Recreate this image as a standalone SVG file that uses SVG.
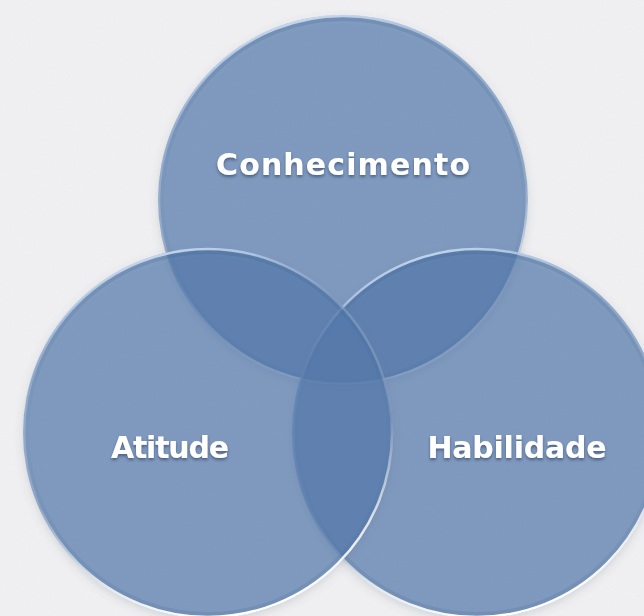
<svg xmlns="http://www.w3.org/2000/svg" width="644" height="616" viewBox="0 0 644 616">
  <defs>
    <filter id="noise" x="0" y="0" width="100%" height="100%">
      <feTurbulence type="fractalNoise" baseFrequency="0.9" numOctaves="2" seed="3" result="n"/>
      <feColorMatrix in="n" type="matrix" values="0 0 0 0 1  0 0 0 0 1  0 0 0 0 1  0 0 0 0.25 0" result="w"/>
      <feComposite in="w" in2="SourceGraphic" operator="over"/>
    </filter>
    <filter id="shadow" x="-20%" y="-20%" width="140%" height="140%">
      <feDropShadow dx="0" dy="3" stdDeviation="4" flood-color="#55606e" flood-opacity="0.3"/>
    </filter>
    <filter id="txtShadow" x="-10%" y="-30%" width="120%" height="170%">
      <feDropShadow dx="0" dy="2" stdDeviation="1.4" flood-color="#1d3350" flood-opacity="0.55"/>
    </filter>
    <linearGradient id="rim" x1="0.3" y1="0" x2="0.55" y2="1">
      <stop offset="0" stop-color="#d6e6fb" stop-opacity="0.9"/>
      <stop offset="0.25" stop-color="#c4d8f2" stop-opacity="0.3"/>
      <stop offset="0.6" stop-color="#ffffff" stop-opacity="0.15"/>
      <stop offset="0.85" stop-color="#ffffff" stop-opacity="0.8"/>
      <stop offset="1" stop-color="#ffffff" stop-opacity="1"/>
    </linearGradient>
    <linearGradient id="bevel" x1="0" y1="0" x2="0" y2="1">
      <stop offset="0" stop-color="#3e5f8a" stop-opacity="0.22"/>
      <stop offset="0.5" stop-color="#3e5f8a" stop-opacity="0.06"/>
      <stop offset="1" stop-color="#3e5f8a" stop-opacity="0.18"/>
    </linearGradient>
  </defs>
  <style>
    .disc { fill: rgb(82,122,174); fill-opacity: 0.65; }
    .bevel { fill: none; stroke: url(#bevel); stroke-width: 6; }
    .rim { fill: none; stroke: url(#rim); stroke-width: 2.5; }
    .label { font-family: "DejaVu Sans", "Liberation Sans", sans-serif; font-weight: bold; font-size: 30px; fill: #ffffff; text-anchor: middle; filter: url(#txtShadow); }
  </style>

  <rect x="0" y="0" width="644" height="616" fill="#ededef" filter="url(#noise)"/>

  <g id="node-conhecimento">
    <circle class="disc" cx="343" cy="200" r="185" filter="url(#shadow)"/>
    <circle class="bevel" cx="343" cy="200" r="182"/>
    <circle class="rim" cx="343" cy="200" r="184"/>
    <text class="label" x="343" y="175" textLength="254" lengthAdjust="spacing">Conhecimento</text>
  </g>

  <g id="node-habilidade">
    <circle class="disc" cx="477" cy="433" r="185" filter="url(#shadow)"/>
    <circle class="bevel" cx="477" cy="433" r="182"/>
    <circle class="rim" cx="477" cy="433" r="184"/>
    <text class="label" x="517" y="458" textLength="179" lengthAdjust="spacing">Habilidade</text>
  </g>

  <g id="node-atitude">
    <circle class="disc" cx="208" cy="433" r="185" filter="url(#shadow)"/>
    <circle class="bevel" cx="208" cy="433" r="182"/>
    <circle class="rim" cx="208" cy="433" r="184"/>
    <text class="label" x="170" y="458" textLength="118" lengthAdjust="spacing">Atitude</text>
  </g>

  <g id="connectors"/>
</svg>
